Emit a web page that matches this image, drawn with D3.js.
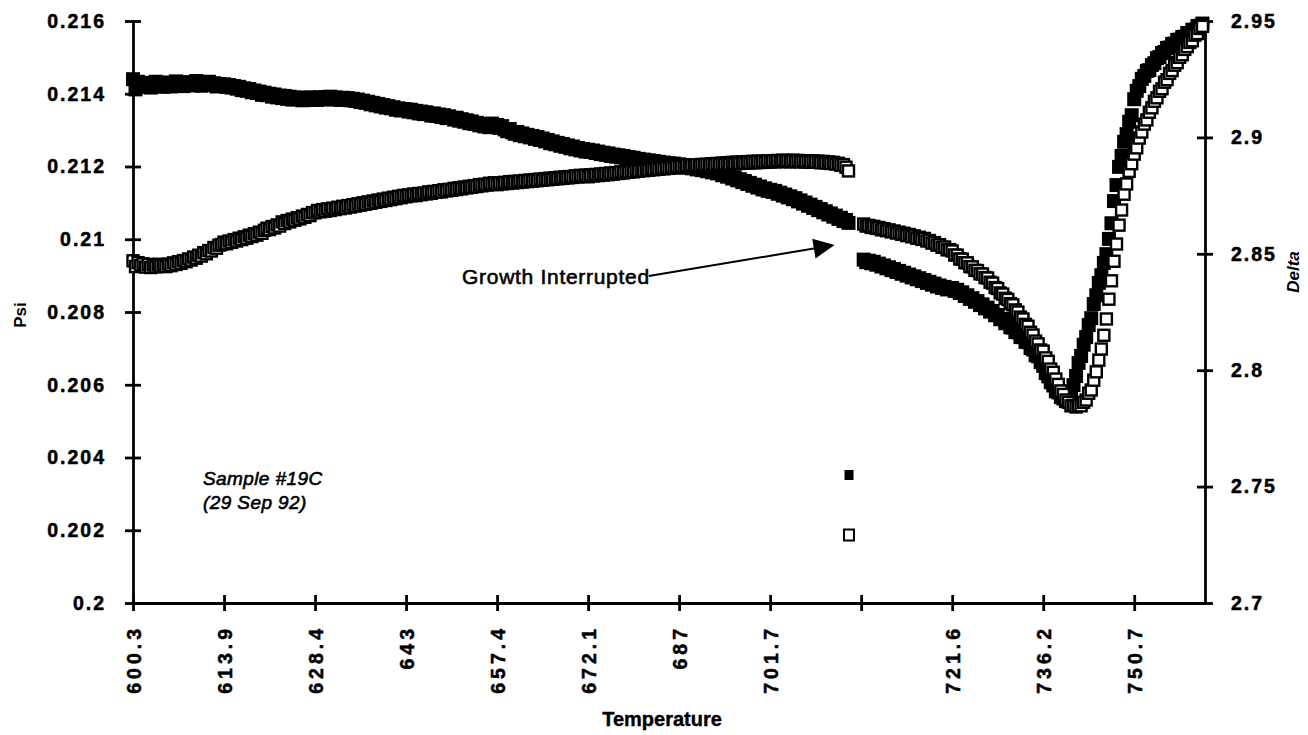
<!DOCTYPE html>
<html>
<head>
<meta charset="utf-8">
<script src="https://cdn.jsdelivr.net/npm/d3@7"></script>
<style>
  html, body { margin: 0; padding: 0; background: #fff; }
  svg { display: block; font-family: "Liberation Sans", Arial, Helvetica, sans-serif; }
</style>
</head>
<body>
<svg id="chart" width="1308" height="735"></svg>
<script>
// Temperature labels, one every `labelStep` readings (blank where growth was interrupted)
const tickLabels = ["600.3", "613.9", "628.4", "643", "657.4", "672.1", "687", "701.7", "", "721.6", "736.2", "750.7"];
const labelStep = 36;

// Left axis (Psi) and right axis (Delta) tick values
const psiTicks = [0.2, 0.202, 0.204, 0.206, 0.208, 0.21, 0.212, 0.214, 0.216];
const deltaTicks = [2.7, 2.75, 2.8, 2.85, 2.9, 2.95];

// Psi readings (filled squares), one per temperature step; null = no reading
const psi = [
  0.21440, 0.21412, 0.21433, 0.21419, 0.21428, 0.21421, 0.21430, 0.21417, 0.21425, 0.21433, 0.21422, 0.21427,
  0.21419, 0.21431, 0.21426, 0.21420, 0.21429, 0.21434, 0.21424, 0.21428, 0.21421, 0.21432, 0.21427, 0.21430,
  0.21423, 0.21435, 0.21428, 0.21422, 0.21431, 0.21426, 0.21433, 0.21424, 0.21429, 0.21420, 0.21427, 0.21423,

  0.21426, 0.21419, 0.21424, 0.21417, 0.21421, 0.21414, 0.21419, 0.21410, 0.21415, 0.21408, 0.21413, 0.21404,
  0.21409, 0.21402, 0.21406, 0.21397, 0.21403, 0.21396, 0.21400, 0.21392, 0.21398, 0.21390, 0.21395, 0.21388,
  0.21394, 0.21386, 0.21392, 0.21384, 0.21390, 0.21385, 0.21389, 0.21382, 0.21388, 0.21384, 0.21390, 0.21383,

  0.21389, 0.21383, 0.21390, 0.21385, 0.21391, 0.21386, 0.21392, 0.21384, 0.21390, 0.21387, 0.21383, 0.21389,
  0.21384, 0.21388, 0.21382, 0.21386, 0.21380, 0.21384, 0.21377, 0.21381, 0.21375, 0.21378, 0.21371, 0.21375,
  0.21368, 0.21372, 0.21365, 0.21369, 0.21362, 0.21366, 0.21360, 0.21363, 0.21356, 0.21360, 0.21354, 0.21358,

  0.21357, 0.21351, 0.21356, 0.21349, 0.21353, 0.21346, 0.21351, 0.21344, 0.21349, 0.21345, 0.21340, 0.21346,
  0.21339, 0.21343, 0.21336, 0.21341, 0.21333, 0.21338, 0.21334, 0.21329, 0.21334, 0.21326, 0.21330, 0.21323,
  0.21327, 0.21319, 0.21324, 0.21317, 0.21320, 0.21313, 0.21317, 0.21310, 0.21315, 0.21308, 0.21318, 0.21311,

  0.21314, 0.21306, 0.21311, 0.21302, 0.21297, 0.21303, 0.21294, 0.21290, 0.21295, 0.21286, 0.21291, 0.21283,
  0.21287, 0.21280, 0.21284, 0.21276, 0.21281, 0.21273, 0.21277, 0.21269, 0.21273, 0.21264, 0.21269, 0.21261,
  0.21265, 0.21257, 0.21262, 0.21254, 0.21258, 0.21250, 0.21255, 0.21247, 0.21251, 0.21244, 0.21248, 0.21241,

  0.21246, 0.21240, 0.21244, 0.21237, 0.21241, 0.21234, 0.21238, 0.21232, 0.21236, 0.21229, 0.21233, 0.21227,
  0.21231, 0.21225, 0.21229, 0.21222, 0.21226, 0.21220, 0.21224, 0.21217, 0.21221, 0.21215, 0.21219, 0.21213,
  0.21217, 0.21211, 0.21215, 0.21209, 0.21213, 0.21207, 0.21211, 0.21205, 0.21209, 0.21204, 0.21208, 0.21202,

  0.21206, 0.21200, 0.21204, 0.21197, 0.21201, 0.21195, 0.21199, 0.21192, 0.21196, 0.21190, 0.21194, 0.21187,
  0.21191, 0.21184, 0.21188, 0.21181, 0.21184, 0.21176, 0.21180, 0.21172, 0.21175, 0.21167, 0.21170, 0.21162,
  0.21165, 0.21157, 0.21160, 0.21152, 0.21155, 0.21147, 0.21150, 0.21142, 0.21145, 0.21137, 0.21140, 0.21133,

  0.21136, 0.21130, 0.21133, 0.21125, 0.21128, 0.21120, 0.21123, 0.21115, 0.21118, 0.21110, 0.21113, 0.21104,
  0.21107, 0.21098, 0.21101, 0.21092, 0.21095, 0.21086, 0.21089, 0.21080, 0.21083, 0.21074, 0.21077, 0.21068,
  0.21071, 0.21062, 0.21065, 0.21056, 0.21059, 0.21050, 0.21053, 0.21045, null, null, null, null,

  null, 0.20944, 0.20937, 0.20941, 0.20934, 0.20938, 0.20930, 0.20933, 0.20925, 0.20928, 0.20920, 0.20923,
  0.20915, 0.20918, 0.20910, 0.20913, 0.20905, 0.20908, 0.20900, 0.20903, 0.20895, 0.20898, 0.20890, 0.20893,
  0.20885, 0.20888, 0.20880, 0.20883, 0.20875, 0.20878, 0.20870, 0.20873, 0.20866, 0.20869, 0.20862, 0.20865,

  0.20866, 0.20858, 0.20861, 0.20852, 0.20854, 0.20844, 0.20846, 0.20836, 0.20838, 0.20828, 0.20830, 0.20819,
  0.20821, 0.20810, 0.20812, 0.20801, 0.20803, 0.20791, 0.20792, 0.20780, 0.20781, 0.20769, 0.20770, 0.20758,
  0.20757, 0.20745, 0.20744, 0.20731, 0.20731, 0.20718, 0.20717, 0.20701, 0.20697, 0.20681, 0.20678, 0.20662,

  0.20652, 0.20632, 0.20623, 0.20607, 0.20598, 0.20582, 0.20579, 0.20566, 0.20562, 0.20555, 0.20563, 0.20568,
  0.20599, 0.20624, 0.20660, 0.20679, 0.20710, 0.20731, 0.20764, 0.20783, 0.20822, 0.20846, 0.20880, 0.20901,
  0.20935, 0.20959, 0.21001, 0.21044, 0.21105, 0.21149, 0.21199, 0.21229, 0.21268, 0.21289, 0.21323, 0.21341,

  0.21385, 0.21408, 0.21421, 0.21441, 0.21449, 0.21463, 0.21465, 0.21479, 0.21484, 0.21498, 0.21501, 0.21512,
  0.21515, 0.21526, 0.21527, 0.21537, 0.21538, 0.21548, 0.21549, 0.21556, 0.21557, 0.21567, 0.21565, 0.21576,
  0.21576, 0.21586, 0.21587, 0.21593
];

// Delta readings (open squares), same temperature steps
const delta = [
  2.8470, 2.8445, 2.8462, 2.8449, 2.8457, 2.8443, 2.8454, 2.8441, 2.8452, 2.8444, 2.8455, 2.8446,
  2.8452, 2.8445, 2.8456, 2.8449, 2.8461, 2.8454, 2.8466, 2.8459, 2.8471, 2.8466, 2.8478, 2.8473,
  2.8486, 2.8481, 2.8494, 2.8490, 2.8505, 2.8500, 2.8514, 2.8512, 2.8527, 2.8524, 2.8537, 2.8540,

  2.8550, 2.8543, 2.8555, 2.8549, 2.8561, 2.8555, 2.8567, 2.8561, 2.8573, 2.8567, 2.8580, 2.8574,
  2.8586, 2.8580, 2.8593, 2.8588, 2.8601, 2.8610, 2.8604, 2.8617, 2.8611, 2.8624, 2.8619, 2.8637,
  2.8630, 2.8643, 2.8637, 2.8649, 2.8644, 2.8655, 2.8650, 2.8662, 2.8657, 2.8669, 2.8664, 2.8677,

  2.8676, 2.8686, 2.8680, 2.8690, 2.8683, 2.8693, 2.8686, 2.8696, 2.8690, 2.8700, 2.8694, 2.8704,
  2.8697, 2.8707, 2.8701, 2.8711, 2.8705, 2.8715, 2.8709, 2.8719, 2.8713, 2.8723, 2.8717, 2.8727,
  2.8721, 2.8731, 2.8725, 2.8735, 2.8729, 2.8739, 2.8733, 2.8743, 2.8737, 2.8747, 2.8741, 2.8751,

  2.8745, 2.8753, 2.8749, 2.8757, 2.8750, 2.8759, 2.8754, 2.8761, 2.8757, 2.8766, 2.8760, 2.8768,
  2.8764, 2.8771, 2.8766, 2.8775, 2.8770, 2.8777, 2.8773, 2.8781, 2.8776, 2.8784, 2.8779, 2.8787,
  2.8783, 2.8790, 2.8786, 2.8793, 2.8789, 2.8797, 2.8792, 2.8799, 2.8795, 2.8803, 2.8798, 2.8805,

  2.8797, 2.8805, 2.8800, 2.8807, 2.8802, 2.8810, 2.8804, 2.8811, 2.8806, 2.8813, 2.8808, 2.8815,
  2.8810, 2.8817, 2.8812, 2.8819, 2.8814, 2.8821, 2.8816, 2.8823, 2.8818, 2.8825, 2.8820, 2.8827,
  2.8822, 2.8829, 2.8824, 2.8831, 2.8826, 2.8832, 2.8828, 2.8835, 2.8830, 2.8837, 2.8832, 2.8838,

  2.8831, 2.8839, 2.8834, 2.8841, 2.8836, 2.8843, 2.8838, 2.8845, 2.8840, 2.8847, 2.8842, 2.8849,
  2.8845, 2.8852, 2.8847, 2.8854, 2.8850, 2.8857, 2.8852, 2.8859, 2.8855, 2.8861, 2.8857, 2.8863,
  2.8859, 2.8866, 2.8861, 2.8868, 2.8863, 2.8870, 2.8865, 2.8872, 2.8867, 2.8873, 2.8869, 2.8875,

  2.8870, 2.8877, 2.8872, 2.8879, 2.8874, 2.8881, 2.8876, 2.8882, 2.8877, 2.8884, 2.8879, 2.8885,
  2.8880, 2.8887, 2.8882, 2.8888, 2.8883, 2.8890, 2.8885, 2.8891, 2.8886, 2.8893, 2.8887, 2.8894,
  2.8888, 2.8895, 2.8889, 2.8896, 2.8890, 2.8897, 2.8891, 2.8898, 2.8892, 2.8898, 2.8893, 2.8899,

  2.8894, 2.8900, 2.8895, 2.8901, 2.8896, 2.8902, 2.8896, 2.8901, 2.8895, 2.8902, 2.8896, 2.8901,
  2.8895, 2.8900, 2.8894, 2.8900, 2.8893, 2.8899, 2.8893, 2.8898, 2.8891, 2.8897, 2.8890, 2.8895,
  2.8888, 2.8893, 2.8885, 2.8889, 2.8880, 2.8883, 2.8872, 2.8856, null, null, null, null,

  null, 2.8628, 2.8619, 2.8622, 2.8613, 2.8618, 2.8609, 2.8613, 2.8603, 2.8608, 2.8599, 2.8603,
  2.8594, 2.8598, 2.8589, 2.8593, 2.8584, 2.8588, 2.8578, 2.8583, 2.8573, 2.8577, 2.8567, 2.8571,
  2.8562, 2.8566, 2.8555, 2.8557, 2.8546, 2.8548, 2.8537, 2.8539, 2.8528, 2.8529, 2.8517, 2.8518,

  2.8512, 2.8495, 2.8494, 2.8478, 2.8477, 2.8462, 2.8461, 2.8445, 2.8444, 2.8429, 2.8428, 2.8414,
  2.8413, 2.8398, 2.8396, 2.8378, 2.8374, 2.8355, 2.8351, 2.8332, 2.8327, 2.8309, 2.8304, 2.8286,
  2.8281, 2.8259, 2.8250, 2.8228, 2.8220, 2.8197, 2.8189, 2.8163, 2.8151, 2.8125, 2.8113, 2.8087,

  2.8082, 2.8053, 2.8038, 2.8005, 2.7991, 2.7962, 2.7939, 2.7911, 2.7896, 2.7872, 2.7862, 2.7847,
  2.7849, 2.7842, 2.7849, 2.7847, 2.7862, 2.7872, 2.7901, 2.7915, 2.7957, 2.7993, 2.8043, 2.8091,
  2.8150, 2.8220, 2.8305, 2.8384, 2.8468, 2.8542, 2.8623, 2.8688, 2.8756, 2.8800, 2.8854, 2.8887,

  2.8928, 2.8955, 2.8997, 2.9023, 2.9057, 2.9075, 2.9108, 2.9127, 2.9155, 2.9170, 2.9198, 2.9209,
  2.9237, 2.9248, 2.9275, 2.9287, 2.9310, 2.9321, 2.9344, 2.9355, 2.9378, 2.9390, 2.9408, 2.9415,
  2.9439, 2.9446, 2.9468, 2.9477
];

// Note written on the chart, anchored in data coordinates (reading index, Psi value)
const annotation = { label: "Growth Interrupted", from: [204, 0.20899], to: [277.5, 0.20984] };
const sampleNote = ["Sample #19C", "(29 Sep 92)"];

const svg = d3.select("#chart");
const width = 1308, height = 735;
const margin = { left: 133, right: 103, top: 21, bottom: 132 };
const plotW = width - margin.left - margin.right;
const plotH = height - margin.top - margin.bottom;

svg.append("rect").attr("width", width).attr("height", height).attr("fill", "#fff");

const x = d3.scaleLinear().domain([0, psi.length]).range([margin.left, margin.left + plotW]);
const yL = d3.scaleLinear().domain([0.2, 0.216]).range([margin.top + plotH, margin.top]);
const yR = d3.scaleLinear().domain([2.7, 2.95]).range([margin.top + plotH, margin.top]);

const axisStroke = 2.8;

function styleAxis(g) {
  g.select(".domain").attr("stroke", "#000").attr("stroke-width", axisStroke);
  g.selectAll(".tick line").attr("stroke", "#000").attr("stroke-width", axisStroke);
  g.selectAll(".tick text")
    .attr("fill", "#000")
    .attr("stroke", "#000").attr("stroke-width", 0.5)
    .style("font-size", "19.5px")
    .style("font-weight", "bold")
    .style("letter-spacing", "2px");
}

const fmt = v => String(+v.toFixed(3));

// Left axis: Psi
svg.append("g")
  .attr("transform", `translate(${margin.left},0)`)
  .call(d3.axisLeft(yL).tickValues(psiTicks).tickFormat(fmt).tickSize(8).tickSizeOuter(0).tickPadding(19))
  .call(styleAxis)
  .call(g => g.selectAll(".tick line").attr("x1", 8));

// Right axis: Delta
svg.append("g")
  .attr("transform", `translate(${margin.left + plotW},0)`)
  .call(d3.axisRight(yR).tickValues(deltaTicks).tickFormat(fmt).tickSize(8).tickSizeOuter(0).tickPadding(18))
  .call(styleAxis)
  .call(g => g.selectAll(".tick line").attr("x1", -8));

// Bottom axis: temperature labels every labelStep readings
const xTickIdx = tickLabels.map((_, i) => i * labelStep);
svg.append("g")
  .attr("transform", `translate(0,${margin.top + plotH})`)
  .call(d3.axisBottom(x).tickValues(xTickIdx).tickFormat((d, i) => tickLabels[i]).tickSize(8).tickSizeOuter(0))
  .call(styleAxis)
  .call(g => g.selectAll(".tick line").attr("y1", -8))
  .call(g => g.selectAll(".tick text")
    .attr("transform", "rotate(-90)")
    .attr("text-anchor", "end")
    .attr("x", -22)
    .attr("y", 0)
    .attr("dy", "0.36em")
    .style("letter-spacing", "4px"));

// Axis titles
svg.append("text")
  .attr("transform", `translate(26,${margin.top + plotH / 2 + 3}) rotate(-90)`)
  .attr("text-anchor", "middle")
  .style("font-size", "17px").style("font-weight", "bold")
  .text("Psi");

svg.append("text")
  .attr("transform", `translate(1299,${margin.top + plotH / 2 - 40}) rotate(-90)`)
  .attr("text-anchor", "middle")
  .style("font-size", "17px").style("font-weight", "bold").style("font-style", "italic")
  .text("Delta");

svg.append("text")
  .attr("x", margin.left + plotW / 2 - 7)
  .attr("y", 726)
  .attr("text-anchor", "middle")
  .attr("stroke", "#000").attr("stroke-width", 0.4)
  .style("font-size", "20px").style("font-weight", "bold")
  .text("Temperature");

// Data markers: Psi (filled) first, Delta (open) on top
const filledSize = 14, openSize = 11;
const psiPts = psi.map((v, i) => ({ i, v })).filter(d => d.v !== null);
const deltaPts = delta.map((v, i) => ({ i, v })).filter(d => d.v !== null);

svg.append("g").selectAll("rect")
  .data(psiPts).join("rect")
  .attr("x", d => x(d.i) - filledSize / 2)
  .attr("y", d => yL(d.v) - filledSize / 2)
  .attr("width", filledSize).attr("height", filledSize)
  .attr("fill", "#000");

svg.append("g").selectAll("rect")
  .data(deltaPts).join("rect")
  .attr("x", d => x(d.i) - openSize / 2)
  .attr("y", d => yR(d.v) - openSize / 2)
  .attr("width", openSize).attr("height", openSize)
  .attr("fill", "#fff").attr("stroke", "#000").attr("stroke-width", 2.4);

// Legend symbols
const legend = svg.append("g").attr("transform", "translate(849,0)");
legend.append("rect").attr("x", -4.5).attr("y", 470).attr("width", 9).attr("height", 10).attr("fill", "#000");
legend.append("rect").attr("x", -5).attr("y", 529.5).attr("width", 10).attr("height", 11)
  .attr("fill", "#fff").attr("stroke", "#000").attr("stroke-width", 2);

// Annotation with arrow
const ax0 = x(annotation.from[0]), ay0 = yL(annotation.from[1]);
const ax1 = x(annotation.to[0]), ay1 = yL(annotation.to[1]);
const ang = Math.atan2(ay1 - ay0, ax1 - ax0);
const headLen = 21, headHalf = 10;
const bx = ax1 - headLen * Math.cos(ang), by = ay1 - headLen * Math.sin(ang);
svg.append("line")
  .attr("x1", ax0).attr("y1", ay0).attr("x2", bx).attr("y2", by)
  .attr("stroke", "#000").attr("stroke-width", 2);
svg.append("path")
  .attr("d", d3.line()([
    [ax1, ay1],
    [bx - headHalf * Math.sin(ang), by + headHalf * Math.cos(ang)],
    [bx + headHalf * Math.sin(ang), by - headHalf * Math.cos(ang)]
  ]) + "Z")
  .attr("fill", "#000");
svg.append("text")
  .attr("x", ax0 + 1).attr("y", ay0 + 8)
  .attr("text-anchor", "end")
  .style("font-size", "21px")
  .style("letter-spacing", "0.7px")
  .attr("stroke", "#000").attr("stroke-width", 0.6)
  .text(annotation.label);

// Sample note
svg.append("g").selectAll("text")
  .data(sampleNote).join("text")
  .attr("x", 203)
  .attr("y", (d, i) => 485 + i * 24)
  .style("font-size", "19px").style("font-style", "italic")
  .style("letter-spacing", "0.4px")
  .attr("stroke", "#000").attr("stroke-width", 0.6)
  .text(d => d);
</script>
</body>
</html>
